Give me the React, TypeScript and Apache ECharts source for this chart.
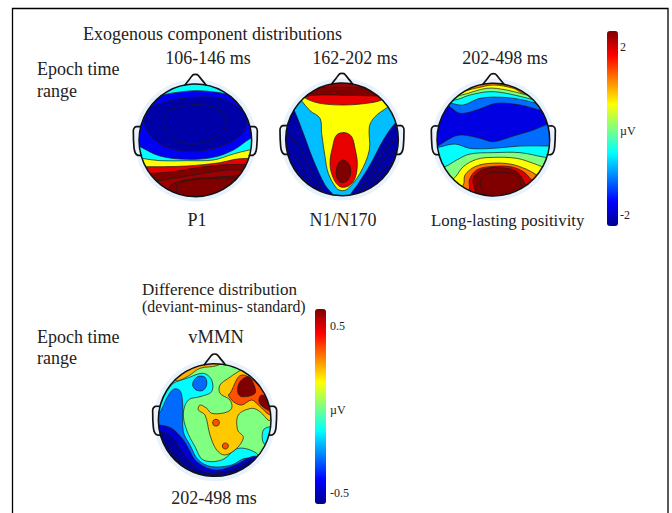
import React, { useEffect, useRef } from "react";
import * as echarts from "echarts";

const jet = ["#00008f", "#0000ff", "#0080ff", "#00ffff", "#80ff80", "#ffff00", "#ff8000", "#ff0000", "#800000"];

type Pt = [number, number];
const sheet: Pt[] = [[-50, -50], [500, -50], [500, 500], [-50, 500]];

// Contour regions, in head-plot units; every region is painted over the previous one.
const p1Levels = [-1.8, 0.2, -0.58, -2.2, -2.2, -0.58, 0.58, 1.85, 2.33, 2.2, 2.33, 2.33];
const p1Contours: Pt[][] = [
  sheet,
  [[170, 20], [170, 40], [195, 47], [220, 44], [240, 40], [240, 20]],
  [[100, 88], [122, 77], [165, 68], [230, 62], [290, 67], [325, 74], [355, 88], [355, 10], [100, 10]],
  [[60, 105], [88, 110], [150, 92], [220, 82], [300, 85], [362, 115], [410, 135], [384, 145], [372, 185], [335, 215], [280, 235], [215, 245], [150, 235], [100, 207], [78, 175], [68, 150], [30, 130]],
  [[130, 150], [145, 125], [190, 108], [250, 105], [300, 120], [318, 150], [312, 180], [280, 205], [225, 222], [180, 215], [140, 185]],
  [[30, 215], [60, 230], [120, 258], [200, 268], [280, 262], [340, 240], [392, 205], [430, 190], [430, 430], [30, 430]],
  [[30, 258], [66, 265], [120, 272], [200, 272], [280, 270], [340, 252], [388, 240], [430, 235], [430, 430], [30, 430]],
  [[40, 290], [80, 290], [130, 290], [200, 288], [300, 278], [345, 268], [385, 265], [430, 262], [430, 430], [40, 430]],
  [[60, 316], [98, 310], [160, 305], [220, 295], [300, 285], [372, 283], [430, 280], [430, 430], [60, 430]],
  [[85, 340], [118, 332], [180, 322], [250, 310], [320, 300], [362, 300], [430, 298], [430, 430], [85, 430]],
  [[150, 350], [200, 330], [280, 322], [340, 318], [430, 312], [430, 430], [150, 430]],
  [[160, 420], [168, 370], [175, 342], [230, 328], [300, 325], [350, 324], [430, 328], [430, 430]],
];

const n170Levels = [-2.2, -2.2, -2.2, -2.2, -2.2, -2.2, -2.2, -2.2, -0.88, 0.58, 1.85, 2.33, 2.2, 1.85, 2.33];
const n170Contours: Pt[][] = [
  sheet,
  [[10, 170], [48, 187], [85, 225], [115, 285], [160, 365], [178, 420], [10, 420]],
  [[10, 235], [52, 240], [80, 265], [120, 330], [155, 370], [165, 420], [10, 420]],
  [[10, 285], [70, 295], [105, 335], [130, 360], [150, 420], [10, 420]],
  [[430, 195], [385, 205], [345, 240], [310, 295], [270, 355], [250, 375], [245, 420], [430, 420]],
  [[430, 235], [375, 245], [340, 270], [305, 320], [265, 365], [255, 420], [430, 420]],
  [[430, 275], [360, 285], [320, 320], [285, 355], [275, 420], [430, 420]],
  [[430, 320], [340, 315], [310, 345], [295, 420], [430, 420]],
  [[55, 95], [73, 122], [100, 190], [130, 270], [165, 345], [192, 380], [195, 420], [238, 420], [240, 378], [262, 345], [300, 285], [340, 210], [378, 157], [410, 135], [410, -10], [55, -10]],
  [[70, 60], [93, 90], [120, 122], [150, 145], [155, 190], [165, 260], [175, 310], [200, 355], [218, 362], [235, 355], [270, 310], [298, 240], [298, 170], [315, 140], [352, 112], [385, 85], [385, -10], [70, -10]],
  [[85, 65], [107, 85], [150, 100], [220, 105], [290, 100], [335, 90], [365, 70], [365, -10], [85, -10]],
  [[90, 80], [125, 76], [175, 75], [230, 76], [280, 77], [320, 78], [350, 80], [350, -10], [90, -10]],
  [[110, 55], [150, 53], [220, 52], [290, 54], [330, 55], [330, -10], [110, -10]],
  [[188, 230], [200, 195], [225, 188], [245, 200], [255, 235], [262, 280], [255, 325], [235, 348], [210, 350], [190, 325], [180, 280]],
  [[199, 305], [205, 280], [220, 270], [238, 285], [242, 310], [232, 332], [215, 338], [203, 328]],
];

const lateLevels = [-1.9, -1.25, -0.58, 0, 0.58, 1.2, -1.25, -0.58, 0, 0.58, 1.2, 1.9, 2.33, 2.33];
const lateContours: Pt[][] = [
  sheet,
  [[45, 95], [85, 108], [120, 130], [170, 120], [230, 100], [300, 105], [360, 120], [410, 125], [410, -10], [45, -10]],
  [[60, 90], [95, 100], [130, 105], [180, 85], [250, 82], [310, 90], [350, 100], [385, 105], [385, -10], [60, -10]],
  [[75, 85], [105, 90], [150, 75], [210, 65], [270, 72], [335, 88], [370, 95], [370, -10], [75, -10]],
  [[100, 75], [125, 75], [200, 55], [260, 60], [320, 75], [345, 80], [345, -10], [100, -10]],
  [[125, 60], [165, 55], [220, 45], [280, 55], [305, 68], [325, 70], [325, -10], [125, -10]],
  [[10, 240], [52, 228], [100, 200], [130, 195], [180, 205], [220, 215], [280, 198], [340, 180], [382, 163], [430, 150], [430, 430], [10, 430]],
  [[10, 238], [55, 232], [105, 222], [150, 235], [220, 235], [300, 228], [385, 228], [430, 228], [430, 430], [10, 430]],
  [[30, 300], [75, 290], [110, 270], [150, 252], [220, 248], [300, 248], [375, 262], [430, 270], [430, 430], [30, 430]],
  [[75, 345], [105, 322], [130, 290], [170, 268], [220, 262], [290, 265], [340, 280], [365, 290], [420, 315], [420, 430], [75, 430]],
  [[105, 370], [130, 345], [135, 315], [165, 290], [210, 280], [270, 282], [320, 298], [350, 315], [390, 340], [390, 430], [105, 430]],
  [[130, 390], [148, 358], [148, 330], [170, 300], [210, 290], [270, 290], [310, 305], [335, 330], [370, 365], [370, 430], [130, 430]],
  [[150, 410], [165, 368], [160, 325], [190, 298], [240, 293], [290, 305], [320, 350], [345, 400], [345, 430], [150, 430]],
  [[190, 420], [195, 378], [180, 335], [205, 310], [260, 308], [295, 320], [305, 355], [320, 410], [320, 430], [190, 430]],
];

const vmmnLevels = [0.01, 0.25, -0.14, -0.31, -0.14, -0.31, -0.49, -0.56, -0.56, -0.56, 0.22, 0.36, 0.6, 0.6, 0.36, 0.36];
const vmmnContours: Pt[][] = [
  sheet,
  [[60, 60], [92, 92], [130, 78], [165, 55], [215, 47], [240, 30], [60, 20]],
  [[20, 125], [60, 125], [85, 100], [125, 85], [175, 70], [200, 90], [200, 125], [165, 140], [130, 150], [115, 190], [125, 240], [150, 290], [175, 330], [230, 330], [280, 295], [335, 310], [340, 335], [360, 420], [20, 420]],
  [[143, 100], [158, 80], [180, 82], [185, 105], [172, 122], [150, 118]],
  [[355, 240], [385, 232], [400, 270], [358, 282]],
  [[20, 190], [42, 190], [65, 145], [85, 118], [105, 122], [113, 160], [115, 245], [135, 285], [160, 330], [200, 350], [260, 345], [300, 325], [330, 335], [350, 420], [20, 420]],
  [[10, 225], [42, 225], [80, 235], [115, 270], [130, 295], [155, 335], [210, 360], [270, 345], [320, 320], [345, 325], [345, 420], [10, 420]],
  [[10, 245], [48, 245], [85, 265], [110, 305], [150, 350], [200, 370], [270, 355], [330, 330], [345, 420], [10, 420]],
  [[10, 280], [60, 280], [90, 320], [130, 355], [180, 372], [260, 368], [330, 345], [335, 420], [10, 420]],
  [[10, 320], [75, 320], [110, 360], [150, 420], [10, 420]],
  [[275, 68], [290, 62], [350, 115], [378, 200], [372, 212], [345, 185], [320, 175], [280, 195], [278, 240], [295, 262], [275, 295], [240, 315], [215, 300], [195, 255], [180, 195], [160, 180], [165, 165], [185, 175], [200, 190], [240, 188], [260, 175], [255, 150], [225, 130], [225, 105], [250, 85]],
  [[255, 130], [290, 75], [355, 120], [385, 180], [375, 195], [340, 165], [320, 150], [290, 165], [265, 155], [250, 135]],
  [[278, 125], [285, 95], [310, 80], [325, 100], [330, 130], [290, 140]],
  [[342, 155], [350, 135], [385, 155], [390, 185], [360, 175]],
  [[203, 218], [206, 210], [213, 208], [221, 211], [223, 218], [220, 226], [213, 228], [206, 226]],
  [[232, 288], [235, 281], [241, 279], [248, 282], [250, 288], [247, 295], [241, 297], [235, 295]],
];

const scaleTicksExo = ["2", "\u00b5V", "-2"];
const scaleTicksDiff = ["0.5", "\u00b5V", "-0.5"];
const exoRange = [-2.33, 2.33];
const diffRange = [-0.58, 0.6];

const R = 169;
const K = 3;
const maps = [
  { levels: p1Levels, contours: p1Contours, cx: 226, cy: 211, ox: 120, oy: 70 },
  { levels: n170Levels, contours: n170Contours, cx: 216, cy: 208, ox: 270, oy: 70 },
  { levels: lateLevels, contours: lateContours, cx: 220, cy: 209, ox: 420, oy: 70 },
  { levels: vmmnLevels, contours: vmmnContours, cx: 209, cy: 210, ox: 145, oy: 350 },
];

const noseLine: Pt[] = [[-31, -166], [-12, -191], [-6, -197], [6, -197], [12, -191], [32, -166]];
const earLine: Pt[] = [[-166, -41], [-178, -41], [-184, -36], [-186, -28], [-184, 22], [-180, 38], [-172, 45], [-162, 45]];

const serif = '"Liberation Serif", "Times New Roman", serif';
const ink = "#222222";
function label(text: string, x: number, y: number, size = 18, align = "left") {
  return {
    type: "text", x, y, silent: true,
    style: { text, fill: ink, font: `${size}px ${serif}`, textAlign: align, textVerticalAlign: "middle" },
  };
}

export default function App() {
  const ref = useRef<HTMLDivElement>(null);
  useEffect(() => {
    document.body.style.margin = "0";
    const chart = echarts.init(ref.current!, undefined, { renderer: "svg" });
    const grids = maps.map((m) => ({
      left: m.ox + (m.cx - R) / K, top: m.oy + (m.cy - R) / K,
      width: (2 * R) / K, height: (2 * R) / K, show: false, containLabel: false,
    }));
    const xAxes = maps.map((m, i) => ({ type: "value", gridIndex: i, min: m.cx - R, max: m.cx + R, show: false }));
    const yAxes = maps.map((m, i) => ({ type: "value", gridIndex: i, min: m.cy - R, max: m.cy + R, inverse: true, show: false }));
    const fields = maps.map((m, i) => ({
      type: "custom", coordinateSystem: "cartesian2d", xAxisIndex: i, yAxisIndex: i,
      silent: true, z: 2,
      data: m.levels.map((v, k) => [k, v]),
      dimensions: ["layer", "level"],
      encode: { x: 0, y: 1 },
      renderItem(_p: any, api: any) {
        const pts = m.contours[api.value(0)].map((p) => api.coord(p));
        const c = api.coord([m.cx, m.cy]);
        const r = api.coord([m.cx + R, m.cy])[0] - c[0];
        return {
          type: "polygon",
          shape: { points: pts, smooth: 0.35 },
          style: { fill: api.visual("color"), stroke: "#1a1a1a", lineWidth: 0.7 },
          clipPath: { type: "circle", shape: { cx: c[0], cy: c[1], r } },
        };
      },
    }));
    const heads = maps.map((m, i) => ({
      type: "custom", coordinateSystem: "cartesian2d", xAxisIndex: i, yAxisIndex: i,
      silent: true, z: 3, data: [[m.cx, m.cy]],
      renderItem(_p: any, api: any) {
        const c = api.coord([m.cx, m.cy]);
        const r = api.coord([m.cx + R, m.cy])[0] - c[0];
        const at = (list: Pt[], sx = 1) => list.map(([x, y]) => api.coord([m.cx + sx * x, m.cy + y]));
        const line = { fill: "none", stroke: "#111", lineWidth: 1.7, lineJoin: "round", lineCap: "round" };
        return {
          type: "group",
          children: [
            { type: "circle", shape: { cx: c[0], cy: c[1], r: r + 2.6 }, style: { fill: "none", stroke: "#e8f2fd", lineWidth: 4.4 } },
            { type: "polyline", shape: { points: at(noseLine), smooth: 0.2 }, style: line },
            { type: "polyline", shape: { points: at(earLine), smooth: 0.2 }, style: line },
            { type: "polyline", shape: { points: at(earLine, -1), smooth: 0.2 }, style: line },
            { type: "circle", shape: { cx: c[0], cy: c[1], r }, style: { fill: "none", stroke: "#111", lineWidth: 1.5 } },
          ],
        };
      },
    }));
    chart.setOption({
      animation: false,
      backgroundColor: "#ffffff",
      grid: grids, xAxis: xAxes, yAxis: yAxes,
      tooltip: { show: false },
      visualMap: [
        { type: "continuous", seriesIndex: [0, 1, 2], dimension: 1, min: exoRange[0], max: exoRange[1], inRange: { color: jet }, left: 607, top: 31, itemWidth: 11, itemHeight: 195, padding: 0, calculable: false, text: ["", ""], textGap: 0, hoverLink: false, silent: true },
        { type: "continuous", seriesIndex: [3], dimension: 1, min: diffRange[0], max: diffRange[1], inRange: { color: jet }, left: 315, top: 309, itemWidth: 11, itemHeight: 195, padding: 0, calculable: false, text: ["", ""], textGap: 0, hoverLink: false, silent: true },
      ],
      series: [...fields, ...heads],
      graphic: [
        { type: "polyline", silent: true, shape: { points: [[12.5, 520], [12.5, 8.5], [668, 8.5], [668, 520]] }, style: { fill: "none", stroke: "#000", lineWidth: 1.3 } },
        label("Exogenous component distributions", 83, 34),
        label("106-146 ms", 208, 58, 18, "center"),
        label("162-202 ms", 355, 58, 18, "center"),
        label("202-498 ms", 505, 58, 18, "center"),
        label("Epoch time", 37, 69),
        label("range", 37, 91),
        label("P1", 197, 220, 18, "center"),
        label("N1/N170", 343, 220, 18, "center"),
        label("Long-lasting positivity", 431, 220, 16.8),
        label("Difference distribution", 142, 289, 17),
        label("(deviant-minus- standard)", 142, 306, 15.8),
        label("Epoch time", 37, 337),
        label("range", 37, 358),
        label("vMMN", 216, 337, 18.5, "center"),
        label("202-498 ms", 214, 498, 18, "center"),
        label(scaleTicksExo[0], 620, 47, 12),
        label(scaleTicksExo[1], 620, 131, 12),
        label(scaleTicksExo[2], 620, 215, 12),
        label(scaleTicksDiff[0], 330, 326, 12),
        label(scaleTicksDiff[1], 330, 410, 12),
        label(scaleTicksDiff[2], 330, 493, 12),
      ],
    });
    return () => chart.dispose();
  }, []);
  return <div ref={ref} style={{ position: "absolute", left: 0, top: 0, width: 672, height: 513 }} />;
}
